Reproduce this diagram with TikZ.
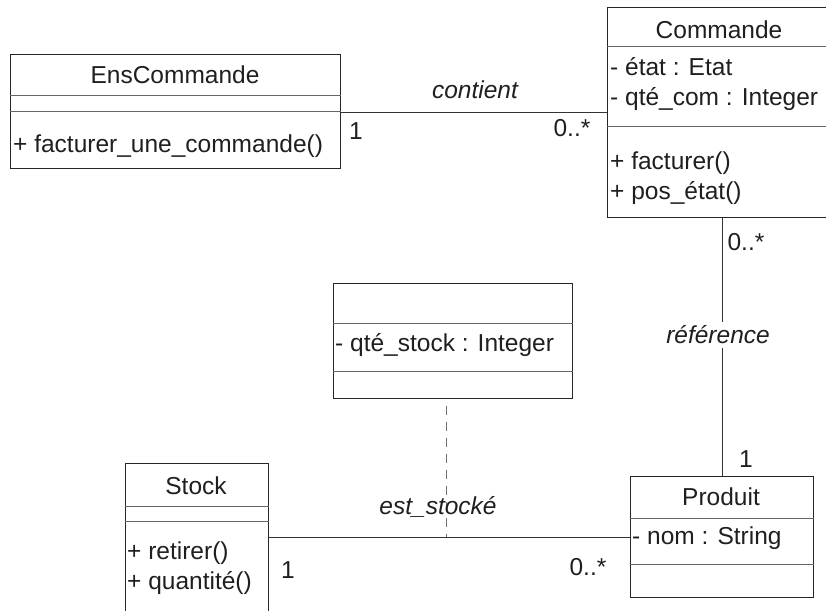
\documentclass[tikz,border=0pt]{standalone}
\usepackage{fontspec}
\setmainfont{Liberation Sans}
\begin{document}
\begin{tikzpicture}[x=1pt,y=-1pt,
  every node/.style={text=black!88, font=\fontsize{24.5}{30}\selectfont},
  classbox/.style={draw=black!85, line width=1.3pt, inner sep=0pt, anchor=north west},
  sep/.style={draw=black!60, line width=1pt},
  assoc/.style={draw=black!80, line width=1pt},
  link/.style={draw=black!55, line width=1pt, dash pattern=on 9pt off 7pt, dash phase=9pt},
  member/.style={anchor=west, inner sep=0pt, align=left},
  title/.style={inner sep=0pt},
  role/.style={inner sep=0pt},
  assocname/.style={inner sep=0pt, font=\fontsize{24.5}{30}\selectfont\itshape}]
\useasboundingbox (0,0) rectangle (826,610);

% EnsCommande
\node[classbox, minimum width=330pt, minimum height=114pt] (ens) at (10,54) {};
\coordinate (ens1) at (10,95);
\coordinate (ens2) at (10,111);
\draw[sep] (ens1) -- (ens1 -| ens.east);
\draw[sep] (ens2) -- (ens2 -| ens.east);
\node[title] (ensT) at (175,75) {EnsCommande};
\node[member] (ensM) at (13,146) {+ facturer\_une\_commande()};

% Commande
\node[classbox, minimum width=224pt, minimum height=210pt] (cmd) at (607,7) {};
\coordinate (cmd1) at (607,47);
\coordinate (cmd2) at (607,126);
\draw[sep] (cmd1) -- (cmd1 -| cmd.east);
\draw[sep] (cmd2) -- (cmd2 -| cmd.east);
\node[title] (cmdT) at (719,30) {Commande};
\node[member] (cmdA) at (610,84) {- état : Etat\\- qté\_com : Integer};
\node[member] (cmdM) at (610,178) {+ facturer()\\+ pos\_état()};

% association class
\node[classbox, minimum width=239pt, minimum height=115pt] (ac) at (333,283) {};
\coordinate (ac1) at (333,323);
\coordinate (ac2) at (333,371);
\draw[sep] (ac1) -- (ac1 -| ac.east);
\draw[sep] (ac2) -- (ac2 -| ac.east);
\node[member] (acA) at (335,345) {- qté\_stock : Integer};

% Stock
\node[classbox, minimum width=143pt, minimum height=160pt] (stk) at (125,463) {};
\coordinate (stk1) at (125,506);
\coordinate (stk2) at (125,521);
\draw[sep] (stk1) -- (stk1 -| stk.east);
\draw[sep] (stk2) -- (stk2 -| stk.east);
\node[title] (stkT) at (196,486) {Stock};
\node[member] (stkM) at (127,568) {+ retirer()\\+ quantité()};

% Produit
\node[classbox, minimum width=183pt, minimum height=121pt] (prd) at (630,476) {};
\coordinate (prd1) at (630,518);
\coordinate (prd2) at (630,564);
\draw[sep] (prd1) -- (prd1 -| prd.east);
\draw[sep] (prd2) -- (prd2 -| prd.east);
\node[title] (prdT) at (721,497) {Produit};
\node[member] (prdA) at (632,538) {- nom : String};

% associations
\coordinate (r1) at (340,112);
\draw[assoc] (r1 -| ens.east) -- (r1 -| cmd.west);
\node[assocname] (lc) at (475,90) {contient};
\node[role] (lc1) at (356,131) {1};
\node[role] (lc2) at (572,128) {0..*};

\coordinate (r2) at (722,217);
\draw[assoc] (r2 |- cmd.south) -- (r2 |- prd.north);
\node[role] (lr1) at (746,242) {0..*};
\node[assocname, fill=white, inner ysep=4pt] (lr) at (718,335) {référence};
\node[role] (lr2) at (746,459) {1};

\coordinate (r3) at (268,537);
\draw[assoc] (r3 -| stk.east) -- (r3 -| prd.west);
\coordinate (mid) at (446,537);
\draw[link] (mid |- ac.south) -- (mid);
\node[assocname] (ls) at (438,507) {est\_stocké};
\node[role] (ls1) at (288,570) {1};
\node[role] (ls2) at (588,567) {0..*};
\end{tikzpicture}
\end{document}
